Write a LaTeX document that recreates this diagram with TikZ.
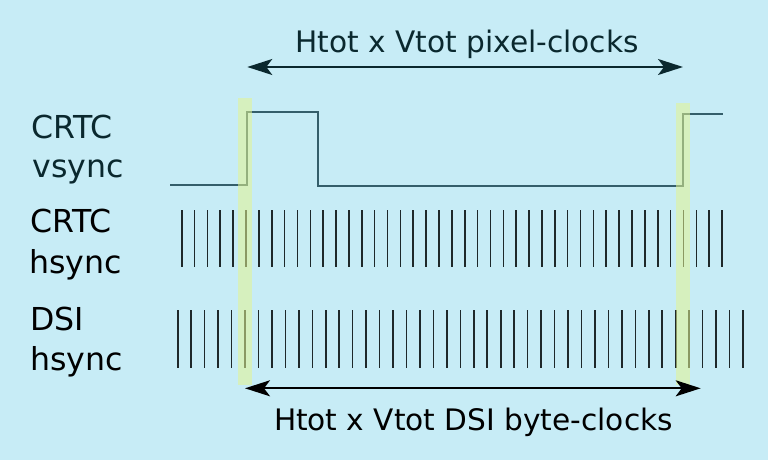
\documentclass[tikz,border=0pt]{standalone}
\usepackage{fontspec}
\setmainfont{DejaVu Sans}
\usetikzlibrary{arrows.meta}
\definecolor{bg}{RGB}{199,236,246}
\definecolor{hl}{RGB}{227,244,144}
\definecolor{sig}{RGB}{52,94,106}
\definecolor{ink}{RGB}{10,40,46}
\definecolor{tk}{RGB}{30,40,42}
\begin{document}
\begin{tikzpicture}[x=1pt,y=-1pt,
  lbl/.style={anchor=base west,inner sep=0pt,font=\fontsize{31.6}{38}\selectfont},
  captxt/.style={anchor=base west,inner sep=0pt,font=\fontsize{29.6}{36}\selectfont},
  tickline/.style={tk,line width=1.6pt},
  sigline/.style={sig,line width=2pt},
  hlbar/.style={fill=hl,opacity=0.55},
  dimarrow/.style={line width=2pt,{Stealth[length=25pt,width=16pt,inset=6pt]}-{Stealth[length=25pt,width=16pt,inset=6pt]}}]
\fill[bg] (0,0) rectangle (768,460);
\useasboundingbox (0,0) rectangle (768,460);
% vsync waveform
\draw[sigline] (170,185) -- (247,185) -- (247,112) -- (318,112) -- (318,186) -- (683,186) -- (683,114) -- (723,114);
% CRTC hsync ticks
\foreach \i in {0,...,42} \draw[tickline] ({181.7+\i*12.865},210) -- ++(0,57);
% DSI hsync ticks
\foreach \i in {0,...,42} \draw[tickline] ({177.7+\i*13.46},310) -- ++(0,58);
% highlight bars
\fill[hlbar] (237.5,98) rectangle (251.5,385);
\fill[hlbar] (675.5,103) rectangle (689.5,385);
% arrows
\coordinate (tl) at (247.3,67);
\coordinate (tr) at (683,67);
\coordinate (bl) at (245,388.3);
\coordinate (br) at (700.7,388.3);
\draw[dimarrow,ink] (tl) -- (tr);
\draw[dimarrow,black] (bl) -- (br);
% texts
\node[captxt,text=ink] (toptxt) at (295.5,52.7) {Htot x Vtot pixel-clocks};
\node[captxt,text=black] (bottxt) at (273.8,430.7) {Htot x Vtot DSI byte-clocks};
\node[lbl,text=ink] (vs1) at (31.5,138.3) {CRTC};
\node[lbl,text=ink] (vs2) at (32.3,177) {vsync};
\node[lbl,text=black] (hs1) at (30.5,232.7) {CRTC};
\node[lbl,text=black] (hs2) at (29.3,273.3) {hsync};
\node[lbl,text=black] (ds1) at (30.2,330.7) {DSI};
\node[lbl,text=black] (ds2) at (30.3,370) {hsync};
\end{tikzpicture}
\end{document}
